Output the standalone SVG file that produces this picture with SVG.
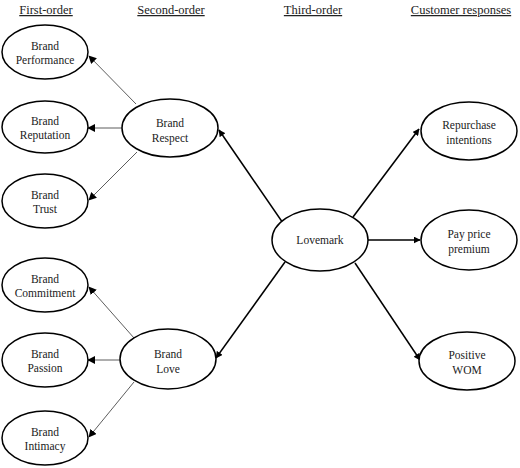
<svg xmlns="http://www.w3.org/2000/svg" width="520" height="468" viewBox="0 0 520 468">
<style>
.hdr{font-family:"Liberation Serif","Times New Roman",serif;font-size:12.5px;fill:#222;text-decoration:underline;text-anchor:middle}
.lbl{font-family:"Liberation Serif","Times New Roman",serif;font-size:11.5px;fill:#222;text-anchor:middle}
.node ellipse{fill:#fff;stroke:#000;stroke-width:1.5}
.thin{stroke:#333;stroke-width:0.8;fill:none}
.thick{stroke:#000;stroke-width:1.5;fill:none}
</style>
<defs>
<marker id="ah" viewBox="0 0 10 10" refX="9" refY="5" markerWidth="8" markerHeight="8" markerUnits="userSpaceOnUse" orient="auto"><path d="M0,0 L10,5 L0,10 z" fill="#000"/></marker>
<marker id="ahb" viewBox="0 0 10 10" refX="9" refY="5" markerWidth="7" markerHeight="7" markerUnits="userSpaceOnUse" orient="auto"><path d="M0,0 L10,5 L0,10 z" fill="#000"/></marker>
</defs>
<g id="headers">
<text class="hdr" x="46" y="14">First-order</text>
<text class="hdr" x="171" y="14">Second-order</text>
<text class="hdr" x="313" y="14">Third-order</text>
<text class="hdr" x="461" y="14">Customer responses</text>
</g>
<g id="connectors">
<line class="thin" x1="136" y1="104" x2="89" y2="56" marker-end="url(#ah)"/>
<line class="thin" x1="122" y1="128" x2="88" y2="128" marker-end="url(#ah)"/>
<line class="thin" x1="137" y1="152" x2="89" y2="200" marker-end="url(#ah)"/>
<line class="thin" x1="134" y1="338" x2="89" y2="287" marker-end="url(#ah)"/>
<line class="thin" x1="120" y1="360" x2="88" y2="360" marker-end="url(#ah)"/>
<line class="thin" x1="134" y1="382" x2="89" y2="437" marker-end="url(#ah)"/>
<line class="thick" x1="285" y1="226" x2="219" y2="130" marker-end="url(#ahb)"/>
<line class="thick" x1="285" y1="262" x2="216" y2="358" marker-end="url(#ahb)"/>
<line class="thick" x1="353" y1="217" x2="419" y2="129" marker-end="url(#ahb)"/>
<line class="thick" x1="368" y1="240" x2="420" y2="240" marker-end="url(#ahb)"/>
<line class="thick" x1="355" y1="263" x2="420" y2="360" marker-end="url(#ahb)"/>
</g>
<g id="brand-performance" class="node"><ellipse cx="45" cy="52" rx="43" ry="27"/><text class="lbl" x="45" y="50">Brand</text><text class="lbl" x="45" y="64">Performance</text></g>
<g id="brand-reputation" class="node"><ellipse cx="45" cy="127" rx="43" ry="26"/><text class="lbl" x="45" y="125">Brand</text><text class="lbl" x="45" y="139">Reputation</text></g>
<g id="brand-trust" class="node"><ellipse cx="45" cy="201" rx="43" ry="27"/><text class="lbl" x="45" y="199">Brand</text><text class="lbl" x="45" y="213">Trust</text></g>
<g id="brand-commitment" class="node"><ellipse cx="45" cy="285" rx="43" ry="27"/><text class="lbl" x="45" y="283">Brand</text><text class="lbl" x="45" y="297">Commitment</text></g>
<g id="brand-passion" class="node"><ellipse cx="45" cy="360" rx="43" ry="27"/><text class="lbl" x="45" y="358">Brand</text><text class="lbl" x="45" y="372">Passion</text></g>
<g id="brand-intimacy" class="node"><ellipse cx="45" cy="438" rx="43" ry="27"/><text class="lbl" x="45" y="436">Brand</text><text class="lbl" x="45" y="450">Intimacy</text></g>
<g id="brand-respect" class="node"><ellipse cx="170" cy="128" rx="48" ry="29"/><text class="lbl" x="170" y="127">Brand</text><text class="lbl" x="170" y="142">Respect</text></g>
<g id="brand-love" class="node"><ellipse cx="168" cy="359" rx="48" ry="30"/><text class="lbl" x="168" y="358">Brand</text><text class="lbl" x="168" y="373">Love</text></g>
<g id="lovemark" class="node"><ellipse cx="320" cy="240" rx="48" ry="31"/><text class="lbl" x="320" y="244">Lovemark</text></g>
<g id="repurchase-intentions" class="node"><ellipse cx="469" cy="131" rx="48" ry="29"/><text class="lbl" x="469" y="129">Repurchase</text><text class="lbl" x="469" y="144">intentions</text></g>
<g id="pay-price-premium" class="node"><ellipse cx="469" cy="240" rx="48" ry="30"/><text class="lbl" x="469" y="238">Pay price</text><text class="lbl" x="469" y="253">premium</text></g>
<g id="positive-wom" class="node"><ellipse cx="467" cy="361" rx="48" ry="29"/><text class="lbl" x="467" y="359">Positive</text><text class="lbl" x="467" y="374">WOM</text></g>
</svg>
